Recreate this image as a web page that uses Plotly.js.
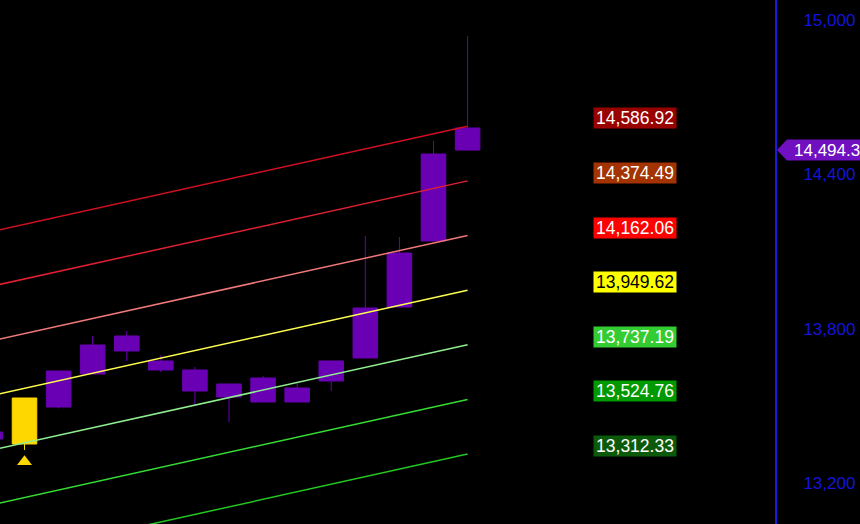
<!DOCTYPE html>
<html>
<head>
<meta charset="utf-8">
<script src="https://cdn.plot.ly/plotly-3.0.1.min.js"></script>
<style>html,body{margin:0;padding:0;background:#000;}#chart{width:860px;height:524px;}</style>
</head>
<body>
<div id="chart"></div>
<script>
// Candles (bar index, OHLC)
const barIdx = [0, 2, 3, 4, 5, 6, 7, 8, 9, 10, 11, 12, 13, 14];
const opens  = [13371, 13495.3, 13623.6, 13713.1, 13674.2, 13639.2, 13584.8, 13514.8, 13514.8, 13596.4, 13685.9, 13884.1, 14140.8, 14580.1];
const highs  = [13398, 13635.3, 13771.4, 13790.8, 13697.5, 13650.9, 13584.8, 13615.9, 13588.6, 13674.2, 14160.2, 14156.3, 14529.6, 14937.8];
const lows   = [13371, 13490.0, 13623.6, 13674.2, 13631.4, 13503.1, 13437.0, 13514.8, 13514.8, 13557.5, 13685.9, 13884.1, 14140.8, 14494.3];
const closes = [13398, 13635.3, 13736.4, 13771.4, 13639.2, 13557.5, 13534.2, 13608.1, 13569.1, 13674.2, 13880.3, 14094.1, 14479.0, 14494.3];

// Highlighted (signal) candle
const sigIdx   = [1];
const sigOpen  = [13351.5];
const sigHigh  = [13530.3];
const sigLow   = [13328.2];
const sigClose = [13530.3];
const sigMarkY = [13282];

// Channel lines: value at bar 0 and at bar 14
const chanX     = [0, 14];
const chanStart = [14176.2, 13963.8, 13751.3, 13538.9, 13326.5, 13114.0, 12901.6];
const chanEnd   = [14586.92, 14374.49, 14162.06, 13949.62, 13737.19, 13524.76, 13312.33];
const chanLabels = ['14,586.92', '14,374.49', '14,162.06', '13,949.62', '13,737.19', '13,524.76', '13,312.33'];
const chanLineColors = ['#d01020', '#e02030', '#f07878', '#ffff50', '#90ee90', '#33dd33', '#22c822'];
const chanBgColors   = ['#990000', '#a33300', '#ff0000', '#ffff00', '#33cc33', '#009900', '#0b5a0b'];
const chanTextColors = ['#ffffff', '#ffffff', '#ffffff', '#000000', '#ffffff', '#ffffff', '#ffffff'];

const lastPrice = 14494.3;
const lastPriceText = '14,494.3';

const yTicks = [13200, 13800, 14400, 15000];
const yTickText = ['13,200', '13,800', '14,400', '15,000'];

const FONT = 'Liberation Sans, Arial, sans-serif';
const PURPLE = '#6a00b4';
const GOLD = '#ffd700';

const traces = [];
chanStart.forEach((s, i) => {
  traces.push({
    type: 'scatter', mode: 'lines', x: chanX, y: [s, chanEnd[i]],
    line: {color: chanLineColors[i], width: 1.5}, hoverinfo: 'skip', showlegend: false
  });
});
traces.push({
  type: 'candlestick', x: barIdx, open: opens, high: highs, low: lows, close: closes,
  increasing: {line: {color: PURPLE, width: 1}, fillcolor: PURPLE},
  decreasing: {line: {color: PURPLE, width: 1}, fillcolor: PURPLE},
  whiskerwidth: 0, showlegend: false, hoverinfo: 'skip'
});
traces.push({
  type: 'candlestick', x: sigIdx, open: sigOpen, high: sigHigh, low: sigLow, close: sigClose,
  increasing: {line: {color: GOLD, width: 1}, fillcolor: GOLD},
  decreasing: {line: {color: GOLD, width: 1}, fillcolor: GOLD},
  whiskerwidth: 0, showlegend: false, hoverinfo: 'skip'
});
traces.push({
  type: 'scatter', mode: 'markers', x: sigIdx, y: sigMarkY,
  marker: {symbol: 'triangle-up', size: 13, color: GOLD}, showlegend: false, hoverinfo: 'skip'
});

const annotations = chanEnd.map((v, i) => ({
  xref: 'paper', yref: 'y', x: 635 / 775, y: v, yshift: 8,
  text: chanLabels[i], showarrow: false,
  font: {family: FONT, size: 17.5, color: chanTextColors[i]},
  bgcolor: chanBgColors[i], width: 80, height: 18, borderpad: 1,
  xanchor: 'center', yanchor: 'middle'
}));
annotations.push({
  xref: 'paper', yref: 'y', x: 792 / 775, y: lastPrice, text: lastPriceText,
  showarrow: false, xanchor: 'left', yanchor: 'middle',
  font: {family: FONT, size: 17, color: '#ffffff'}
});

const shapes = [{
  type: 'path', xref: 'paper', yref: 'y', xsizemode: 'pixel', ysizemode: 'pixel',
  xanchor: 777 / 775, yanchor: lastPrice,
  path: 'M 0 0 L 10 10.5 L 90 10.5 L 90 -10.5 L 10 -10.5 Z',
  fillcolor: '#7010c0', line: {width: 0}
}];

const layout = {
  width: 860, height: 524,
  margin: {l: 0, r: 85, t: 0, b: 0, pad: 0},
  paper_bgcolor: '#000000', plot_bgcolor: '#000000',
  showlegend: false,
  boxgap: 0.28, boxgroupgap: 0,
  xaxis: {range: [0.281, 23.02], visible: false, showgrid: false, zeroline: false,
          rangeslider: {visible: false}, fixedrange: true},
  yaxis: {
    side: 'right', range: [13040.4, 15077.8], showgrid: false, zeroline: false,
    showline: true, linecolor: '#1a1ae0', linewidth: 2, mirror: false,
    tickmode: 'array', tickvals: yTicks, ticktext: yTickText, ticks: '',
    ticklabelstandoff: 23,
    tickfont: {family: FONT, size: 17, color: '#1414d8'}, fixedrange: true
  },
  annotations: annotations,
  shapes: shapes
};

Plotly.newPlot('chart', traces, layout, {displayModeBar: false, staticPlot: true});
</script>
</body>
</html>
